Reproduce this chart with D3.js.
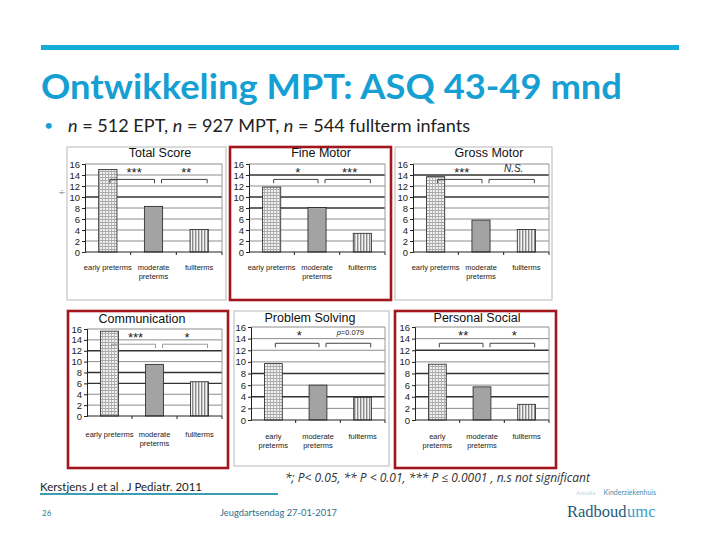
<!DOCTYPE html>
<html lang="en">
<head>
<meta charset="UTF-8">
<title>Ontwikkeling MPT: ASQ 43-49 mnd</title>
<style>
body { margin: 0; background: #fff; }
svg { display: block; }
.tick-label { font: 9.5px "Liberation Sans", Arial, sans-serif; fill: #222; }
.cat-label { font: 7.5px "Liberation Sans", Arial, sans-serif; fill: #222; }
.panel-title { font: 12.5px "Liberation Sans", Arial, sans-serif; fill: #111; }
.sig { font: 10px "Liberation Sans", Arial, sans-serif; fill: #222; }
</style>
</head>
<body>
<script src="https://cdnjs.cloudflare.com/ajax/libs/d3/7.8.5/d3.min.js"></script>
<script>
// ---- data ----
var categories = ["early preterms", "moderate preterms", "fullterms"];
var labelsWide = [["early preterms"], ["moderate", "preterms"], ["fullterms"]];
var labelsNarrow = [["early", "preterms"], ["moderate", "preterms"], ["fullterms"]];
var panelTitles = ["Total Score", "Fine Motor", "Gross Motor", "Communication", "Problem Solving", "Personal Social"];

var totalScore = [15.0, 8.3, 4.1];
var fineMotor = [11.8, 8.1, 3.4];
var grossMotor = [13.7, 5.8, 4.1];
var communication = [15.6, 9.5, 6.3];
var problemSolving = [9.7, 6.0, 3.9];
var personalSocial = [9.6, 5.7, 2.7];
var seriesValues = [totalScore, fineMotor, grossMotor, communication, problemSolving, personalSocial];

// significance labels: [early vs moderate, moderate vs fullterm]
var significance = [["***", "**"], ["*", "***"], ["***", "N.S."], ["***", "*"], ["*", "p=0.079"], ["**", "*"]];

var yTicks = [0, 2, 4, 6, 8, 10, 12, 14, 16];

// ---- layout of the six little charts ----
var layout = [
  { frame: [67, 147, 226, 300], red: false, ax: 85, right: 222, top: 164, bottom: 252, tx: 160, ty: 157, ly: 270, labels: labelsWide, dark: [10] },
  { frame: [230, 147, 391, 300], red: true, ax: 249, right: 385, top: 164, bottom: 252, tx: 321, ty: 157, ly: 270, labels: labelsWide, dark: [14, 10, 8] },
  { frame: [395, 147, 552, 300], red: false, ax: 413, right: 549, top: 164, bottom: 252, tx: 489, ty: 157, ly: 270, labels: labelsWide, dark: [14, 10] },
  { frame: [68, 311, 228, 468], red: true, ax: 87, right: 222, top: 329, bottom: 416, tx: 142, ty: 323, ly: 437, labels: labelsWide, dark: [12, 8, 6] },
  { frame: [234, 311, 389, 466], red: false, ax: 251, right: 385, top: 327, bottom: 420, tx: 310, ty: 322, ly: 439, labels: labelsNarrow, dark: [8, 4] },
  { frame: [395, 311, 556, 468], red: true, ax: 415, right: 549, top: 327, bottom: 420, tx: 477, ty: 322, ly: 439, labels: labelsNarrow, dark: [12, 8, 4] }
];

var W = 720, H = 540;
var svg = d3.select("body").append("svg").attr("width", W).attr("height", H);

// patterns for the bars
var defs = svg.append("defs");
var pGrid = defs.append("pattern").attr("id", "pGrid").attr("patternUnits", "userSpaceOnUse")
  .attr("width", 3).attr("height", 3);
pGrid.append("rect").attr("width", 3).attr("height", 3).attr("fill", "#f0f0f0");
pGrid.append("rect").attr("x", 0).attr("y", 0).attr("width", 3).attr("height", 1).attr("fill", "#a6a6a6");
pGrid.append("rect").attr("x", 0).attr("y", 0).attr("width", 1).attr("height", 3).attr("fill", "#b4b4b4");

var pStripe = defs.append("pattern").attr("id", "pStripe").attr("patternUnits", "userSpaceOnUse")
  .attr("width", 3).attr("height", 3);
pStripe.append("rect").attr("width", 3).attr("height", 3).attr("fill", "#f4f4f4");
pStripe.append("rect").attr("x", 0).attr("width", 1.4).attr("height", 3).attr("fill", "#8a8a8a");

var barFills = ["url(#pGrid)", "#a3a3a3", "url(#pStripe)"];

// ---- slide header ----
svg.append("rect").attr("x", 41).attr("y", 45).attr("width", 638).attr("height", 5).attr("fill", "#14acd9");

svg.append("text").attr("x", 41).attr("y", 99)
  .attr("textLength", 581).attr("lengthAdjust", "spacingAndGlyphs")
  .style("font", "bold 34px Lato, 'Open Sans', sans-serif").style("fill", "#169fd3")
  .text("Ontwikkeling MPT: ASQ 43-49 mnd");

svg.append("text").attr("x", 44).attr("y", 131)
  .style("font", "16px Lato, sans-serif").style("fill", "#169fd3").text("•");

var sub = svg.append("text").attr("x", 68).attr("y", 132)
  .attr("textLength", 402).attr("lengthAdjust", "spacingAndGlyphs")
  .style("font", "17px Lato, 'Open Sans', sans-serif").style("fill", "#222");
sub.append("tspan").style("font-style", "italic").text("n");
sub.append("tspan").text(" = 512 EPT, ");
sub.append("tspan").style("font-style", "italic").text("n");
sub.append("tspan").text(" = 927 MPT, ");
sub.append("tspan").style("font-style", "italic").text("n");
sub.append("tspan").text(" = 544 fullterm infants");

svg.append("text").attr("x", 58).attr("y", 195)
  .style("font", "9px 'DejaVu Sans', sans-serif").style("fill", "#999").text("÷");

// ---- panels ----
layout.forEach(function (L, i) {
  var g = svg.append("g");
  var values = seriesValues[i];

  // outer frame
  g.append("rect")
    .attr("x", L.frame[0]).attr("y", L.frame[1])
    .attr("width", L.frame[2] - L.frame[0]).attr("height", L.frame[3] - L.frame[1])
    .attr("fill", "#fff")
    .attr("stroke", L.red ? "#a3161b" : "#c4c4c4")
    .attr("stroke-width", L.red ? 2.6 : 1.2);

  var x = d3.scaleBand().domain(categories).range([L.ax, L.right]);
  var y = d3.scaleLinear().domain([0, 16]).range([L.bottom, L.top]);

  // gridlines
  g.selectAll("line.grid").data(yTicks.filter(function (t) { return t > 0; }))
    .enter().append("line")
    .attr("x1", L.ax).attr("x2", L.right)
    .attr("y1", function (d) { return y(d); }).attr("y2", function (d) { return y(d); })
    .attr("stroke", function (d) { return L.dark.indexOf(d) >= 0 ? "#333" : "#8c8c8c"; })
    .attr("stroke-width", function (d) { return L.dark.indexOf(d) >= 0 ? 1.3 : 1; });

  // right edge of plot area
  g.append("line").attr("x1", L.right).attr("x2", L.right)
    .attr("y1", y(16)).attr("y2", y(0)).attr("stroke", "#999");

  // bars
  var bw = x.bandwidth() * 0.4;
  g.selectAll("rect.bar").data(values).enter().append("rect")
    .attr("x", function (d, j) { return x(categories[j]) + (x.bandwidth() - bw) / 2; })
    .attr("y", function (d) { return y(d); })
    .attr("width", bw)
    .attr("height", function (d) { return y(0) - y(d); })
    .attr("fill", function (d, j) { return barFills[j]; })
    .attr("stroke", "#222").attr("stroke-width", 0.8);

  // axes
  var yAxis = d3.axisLeft(y).tickValues(yTicks).tickSize(3).tickPadding(2);
  var ya = g.append("g").attr("transform", "translate(" + L.ax + ",0)").call(yAxis);
  ya.select(".domain").attr("stroke", "#222");
  ya.selectAll(".tick line").attr("stroke", "#222");
  ya.selectAll(".tick text").attr("class", "tick-label").attr("font-size", null).attr("font-family", null);

  g.append("line").attr("x1", L.ax).attr("x2", L.right)
    .attr("y1", y(0)).attr("y2", y(0)).attr("stroke", "#222");
  g.selectAll("line.xtick").data(categories).enter().append("line")
    .attr("x1", function (d) { return x(d) + x.bandwidth(); })
    .attr("x2", function (d) { return x(d) + x.bandwidth(); })
    .attr("y1", y(0)).attr("y2", y(0) + 3).attr("stroke", "#222");

  // category labels
  categories.forEach(function (c, j) {
    var t = g.append("text").attr("class", "cat-label").attr("text-anchor", "middle")
      .attr("x", x(c) + x.bandwidth() / 2).attr("y", L.ly);
    L.labels[j].forEach(function (line, k) {
      t.append("tspan").attr("x", x(c) + x.bandwidth() / 2).attr("dy", k === 0 ? 0 : 9).text(line);
    });
  });

  // title
  g.append("text").attr("class", "panel-title").attr("text-anchor", "middle")
    .attr("x", L.tx).attr("y", L.ty).text(panelTitles[i]);

  // significance brackets
  var c = categories.map(function (d) { return x(d) + x.bandwidth() / 2; });
  var spans = [[c[0] + 2, c[1] + 1], [c[1] + 8, c[2] + 8]];
  var by = y(13.2), bt = y(12.5);
  spans.forEach(function (s, k) {
    g.append("path")
      .attr("d", "M" + s[0] + "," + bt + "V" + by + "H" + s[1] + "V" + bt)
      .attr("fill", "none").attr("stroke", i === 3 ? "#999" : "#444").attr("stroke-width", 1);
    var lab = significance[i][k];
    var st = g.append("text").attr("class", "sig").attr("text-anchor", "middle")
      .attr("x", (s[0] + s[1]) / 2 + 2).attr("y", y(14.3));
    if (lab === "N.S.") {
      st.style("font-style", "italic").style("font-size", "10px").attr("y", y(14.5)).text(lab);
    } else if (lab.indexOf("p=") === 0) {
      st.style("font-size", "7.5px").attr("y", y(14.6));
      st.append("tspan").style("font-style", "italic").text("p");
      st.append("tspan").text(lab.slice(1));
    } else {
      st.attr("y", y(13.7)).style("font-size", "13px").text(lab);
    }
  });
});

// ---- footer ----
svg.append("text").attr("x", 285).attr("y", 482)
  .attr("textLength", 305).attr("lengthAdjust", "spacingAndGlyphs")
  .style("font", "italic 12px 'Open Sans', sans-serif").style("fill", "#333")
  .text("*; P< 0.05, ** P < 0.01, *** P \u2264 0.0001 , n.s not significant");

svg.append("text").attr("x", 40).attr("y", 491)
  .attr("textLength", 162).attr("lengthAdjust", "spacingAndGlyphs")
  .style("font", "11px Lato, sans-serif").style("fill", "#222")
  .text("Kerstjens J et al , J Pediatr. 2011");
svg.append("rect").attr("x", 40).attr("y", 493).attr("width", 238).attr("height", 2).attr("fill", "#3a9fb6");

svg.append("text").attr("x", 42).attr("y", 516)
  .style("font", "8px Lato, sans-serif").style("fill", "#2a7d95").text("26");
svg.append("text").attr("x", 220).attr("y", 516)
  .attr("textLength", 117).attr("lengthAdjust", "spacingAndGlyphs")
  .style("font", "8.5px Lato, sans-serif").style("fill", "#2a6f8a")
  .text("Jeugdartsendag   27-01-2017");

svg.append("text").attr("x", 576).attr("y", 495)
  .style("font", "6.5px Lato, sans-serif").style("fill", "#b7d7e4").text("Amalia");
svg.append("text").attr("x", 656).attr("y", 495).attr("text-anchor", "end")
  .style("font", "7px Lato, sans-serif").style("fill", "#3d8fb0").text("Kinderziekenhuis");

// Radboud + umc as two texts placed side by side
var rb = svg.append("text").attr("x", 567).attr("y", 517)
  .style("font", "16.5px 'Liberation Serif', 'DejaVu Serif', serif").style("fill", "#1f5a78")
  .text("Radboud");
var rbw = rb.node().getComputedTextLength();
svg.append("text").attr("x", 567 + rbw + 0.5).attr("y", 517)
  .style("font", "16.5px 'Liberation Serif', 'DejaVu Serif', serif").style("fill", "#3a9cc8")
  .text("umc");
</script>
</body>
</html>
